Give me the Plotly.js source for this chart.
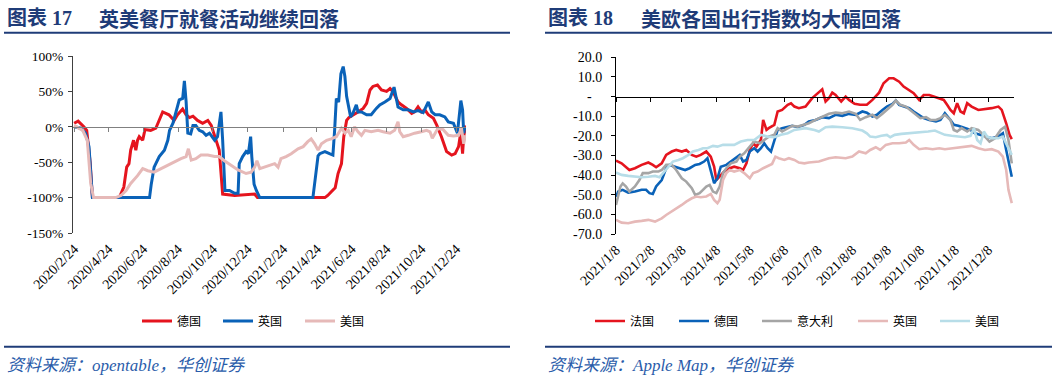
<!DOCTYPE html>
<html><head><meta charset="utf-8">
<script src="https://cdn.plot.ly/plotly-3.0.1.min.js"></script>
<style>html,body{margin:0;padding:0;background:#fff}#chart{width:1064px;height:380px}</style>
</head><body><div id="chart"></div>
<script>
// ---------- Chart 17: restaurant activity (opentable) ----------
const leftTickVals = ['2020-02-24','2020-04-24','2020-06-24','2020-08-24','2020-10-24','2020-12-24','2021-02-24','2021-04-24','2021-06-24','2021-08-24','2021-10-24','2021-12-24'];
const leftTickText = ['2020/2/24','2020/4/24','2020/6/24','2020/8/24','2020/10/24','2020/12/24','2021/2/24','2021/4/24','2021/6/24','2021/8/24','2021/10/24','2021/12/24'];
const leftYTicks = [-150,-100,-50,0,50,100];
const leftYText = ['-150%','-100%','-50%','0%','50%','100%'];
const leftNames = ['德国','英国','美国'];

const deDates = ['2020-02-24','2020-03-02','2020-03-12','2020-03-17','2020-03-23','2020-03-27','2020-05-13','2020-05-21','2020-05-26','2020-05-30','2020-06-02','2020-06-07','2020-06-11','2020-06-14','2020-06-17','2020-06-23','2020-06-27','2020-07-07','2020-07-16','2020-07-28','2020-08-08','2020-08-17','2020-08-23','2020-09-01','2020-09-07','2020-09-13','2020-09-19','2020-09-27','2020-10-06','2020-10-15','2020-10-21','2020-10-30','2020-11-04','2020-11-10','2020-12-01','2021-01-05','2021-01-10','2021-05-08','2021-05-13','2021-05-20','2021-05-26','2021-05-31','2021-06-06','2021-06-10','2021-06-15','2021-06-19','2021-06-26','2021-07-05','2021-07-14','2021-07-20','2021-07-26','2021-07-31','2021-08-08','2021-08-15','2021-08-24','2021-08-30','2021-09-04','2021-09-13','2021-09-19','2021-09-28','2021-10-07','2021-10-12','2021-10-18','2021-10-24','2021-10-30','2021-11-05','2021-11-14','2021-11-20','2021-11-28','2021-12-07','2021-12-16','2021-12-22','2021-12-28','2022-01-01','2022-01-04','2022-01-06','2022-01-09'];
const deVals = [5,8,0,-5,-50,-100,-100,-85,-57,-52,-33,-19,-33,-19,-14,-19,-4,-5,-2,21,17,9,17,25,17,13,15,9,5,9,2,-19,-33,-95,-97,-95,-100,-100,-97,-91,-86,-66,-52,-14,9,13,17,21,26,33,52,57,59,52,50,54,50,35,31,26,19,21,28,21,24,17,12,2,-14,-35,-40,-38,-28,-7,-38,-14,2];

const ukDates = ['2020-02-24','2020-03-07','2020-03-15','2020-03-21','2020-03-27','2020-07-05','2020-07-08','2020-07-13','2020-07-22','2020-07-31','2020-08-06','2020-08-09','2020-08-15','2020-08-20','2020-08-26','2020-09-01','2020-09-04','2020-09-07','2020-09-10','2020-09-15','2020-09-19','2020-09-24','2020-09-30','2020-10-06','2020-10-12','2020-10-18','2020-10-27','2020-11-01','2020-11-07','2020-11-10','2020-11-14','2020-11-22','2020-12-01','2020-12-07','2020-12-09','2020-12-15','2020-12-21','2020-12-25','2020-12-29','2020-12-31','2021-01-04','2021-01-08','2021-01-14','2021-04-17','2021-04-26','2021-04-29','2021-05-08','2021-05-16','2021-05-22','2021-05-25','2021-05-28','2021-06-01','2021-06-05','2021-06-09','2021-06-12','2021-06-15','2021-06-19','2021-06-22','2021-06-26','2021-07-02','2021-07-05','2021-07-11','2021-07-20','2021-07-28','2021-08-06','2021-08-12','2021-08-21','2021-08-30','2021-09-06','2021-09-10','2021-09-13','2021-09-22','2021-10-01','2021-10-10','2021-10-18','2021-10-27','2021-11-05','2021-11-11','2021-11-17','2021-11-25','2021-12-04','2021-12-10','2021-12-19','2021-12-26','2022-01-01','2022-01-04','2022-01-06','2022-01-08'];
const ukVals = [0,-2,-9,-28,-100,-100,-81,-57,-42,-33,-19,-5,5,19,38,40,65,36,-9,-10,2,2,-5,-7,-12,-9,-19,-14,21,-19,-90,-90,-94,-94,-52,-42,-35,-38,-14,-42,-81,-90,-100,-100,-41,-38,-35,-38,-40,-5,40,35,75,85,71,43,28,14,19,31,21,21,17,17,26,31,35,40,56,42,28,24,24,21,23,20,35,21,17,17,14,7,5,-9,37,24,-9,0];

const usDates = ['2020-02-24','2020-03-10','2020-03-18','2020-03-24','2020-03-29','2020-05-07','2020-05-16','2020-05-25','2020-06-02','2020-06-14','2020-06-23','2020-07-02','2020-07-13','2020-07-25','2020-08-06','2020-08-17','2020-08-29','2020-09-07','2020-09-11','2020-09-16','2020-09-24','2020-10-03','2020-10-15','2020-10-27','2020-11-04','2020-11-13','2020-11-25','2020-12-07','2020-12-21','2020-12-30','2021-01-05','2021-01-09','2021-01-14','2021-01-22','2021-01-28','2021-02-09','2021-02-15','2021-02-20','2021-03-01','2021-03-10','2021-03-22','2021-03-31','2021-04-08','2021-04-14','2021-04-20','2021-04-26','2021-05-02','2021-05-11','2021-05-19','2021-05-28','2021-06-06','2021-06-12','2021-06-18','2021-06-23','2021-06-29','2021-07-05','2021-07-11','2021-07-17','2021-07-28','2021-08-09','2021-08-18','2021-08-30','2021-09-07','2021-09-13','2021-09-16','2021-09-22','2021-10-01','2021-10-12','2021-10-24','2021-11-02','2021-11-08','2021-11-12','2021-11-17','2021-11-22','2021-12-01','2021-12-10','2021-12-19','2021-12-28','2022-01-02','2022-01-06','2022-01-09'];
const usVals = [2,-5,-19,-80,-100,-100,-97,-90,-80,-69,-59,-62,-64,-59,-54,-50,-45,-42,-31,-47,-45,-40,-40,-42,-42,-48,-54,-61,-66,-64,-57,-48,-59,-57,-55,-52,-57,-45,-42,-38,-31,-28,-21,-17,-24,-33,-24,-19,-17,-14,-2,-9,-5,-14,0,-7,-12,-5,-7,-5,-7,-9,-5,7,-7,-14,-12,-9,-7,-5,-7,-16,-9,-2,-4,-12,-13,-12,-2,-24,-12];

// ---------- Chart 18: Apple mobility index ----------
const rightTickVals = ['2021-01-08','2021-02-08','2021-03-08','2021-04-08','2021-05-08','2021-06-08','2021-07-08','2021-08-08','2021-09-08','2021-10-08','2021-11-08','2021-12-08'];
const rightTickText = ['2021/1/8','2021/2/8','2021/3/8','2021/4/8','2021/5/8','2021/6/8','2021/7/8','2021/8/8','2021/9/8','2021/10/8','2021/11/8','2021/12/8'];
const rightYTicks = [-70,-60,-50,-40,-30,-20,-10,0,10,20];
const rightYText = ['-70.0','-60.0','-50.0','-40.0','-30.0','-20.0','-10.0','-\u00a0\u00a0\u00a0','10.0','20.0'];
const rightNames = ['法国','德国','意大利','英国','美国'];

const frDates = ['2021-01-08','2021-01-13','2021-01-20','2021-01-25','2021-01-31','2021-02-06','2021-02-10','2021-02-13','2021-02-18','2021-02-22','2021-02-27','2021-03-03','2021-03-08','2021-03-12','2021-03-17','2021-03-21','2021-03-25','2021-03-30','2021-04-03','2021-04-06','2021-04-08','2021-04-11','2021-04-15','2021-04-20','2021-04-24','2021-04-29','2021-05-02','2021-05-05','2021-05-08','2021-05-11','2021-05-14','2021-05-18','2021-05-20','2021-05-23','2021-05-25','2021-05-30','2021-06-02','2021-06-06','2021-06-11','2021-06-14','2021-06-17','2021-06-21','2021-06-27','2021-07-03','2021-07-08','2021-07-12','2021-07-15','2021-07-18','2021-07-21','2021-07-24','2021-07-29','2021-08-02','2021-08-05','2021-08-10','2021-08-15','2021-08-21','2021-08-26','2021-09-01','2021-09-05','2021-09-10','2021-09-14','2021-09-19','2021-09-23','2021-09-28','2021-10-02','2021-10-07','2021-10-11','2021-10-16','2021-10-20','2021-10-25','2021-10-29','2021-11-01','2021-11-04','2021-11-07','2021-11-10','2021-11-13','2021-11-16','2021-11-19','2021-11-23','2021-11-29','2021-12-05','2021-12-11','2021-12-17','2021-12-20','2021-12-24','2021-12-27','2021-12-29'];
const frVals = [-32.6,-34,-37.4,-36.5,-34.8,-33.6,-34.8,-36,-34,-29.7,-28,-27.2,-28,-27.2,-29.7,-30.6,-29.7,-28,-30.6,-35.7,-42.5,-40.8,-38.2,-36.5,-35.7,-36.5,-37.4,-34,-27.2,-23.8,-25.5,-22,-11.9,-17,-16.1,-14.4,-7.6,-6.8,-4.2,-3.4,-5.1,-5.9,-5.1,-0.8,1.7,3.7,-2.5,-0.8,2.0,0.8,-2.5,0,-1.7,-3.7,-4.2,-4.2,-1.7,2.0,6.8,9.3,9.3,7.6,5.1,3.4,1.7,-1.7,0.8,0.8,0,-0.8,-1.7,-4.2,-6.8,-8.5,-3.4,-7.6,-8.5,-3.4,-5.1,-6.8,-6.5,-5.9,-5.1,-6.8,-13.6,-19.5,-21.7];

const deMobDates = ['2021-01-08','2021-01-10','2021-01-14','2021-01-19','2021-01-25','2021-01-31','2021-02-04','2021-02-07','2021-02-10','2021-02-13','2021-02-18','2021-02-22','2021-02-25','2021-03-02','2021-03-06','2021-03-11','2021-03-15','2021-03-20','2021-03-24','2021-03-28','2021-03-31','2021-04-03','2021-04-06','2021-04-09','2021-04-12','2021-04-17','2021-04-21','2021-04-26','2021-04-29','2021-05-02','2021-05-05','2021-05-08','2021-05-12','2021-05-15','2021-05-18','2021-05-21','2021-05-24','2021-05-27','2021-05-30','2021-06-02','2021-06-06','2021-06-11','2021-06-15','2021-06-20','2021-06-26','2021-06-30','2021-07-06','2021-07-12','2021-07-18','2021-07-24','2021-07-30','2021-08-05','2021-08-11','2021-08-17','2021-08-21','2021-08-26','2021-08-30','2021-09-04','2021-09-08','2021-09-13','2021-09-16','2021-09-19','2021-09-23','2021-09-28','2021-10-02','2021-10-07','2021-10-11','2021-10-16','2021-10-22','2021-10-26','2021-10-30','2021-11-04','2021-11-07','2021-11-11','2021-11-17','2021-11-22','2021-11-26','2021-12-01','2021-12-05','2021-12-11','2021-12-17','2021-12-21','2021-12-24','2021-12-27','2021-12-29'];
const deMobVals = [-51,-48.4,-47.5,-48.9,-48.4,-47.5,-47.5,-49.2,-49.6,-45.8,-42.5,-36.5,-34.8,-35.7,-36.5,-37.4,-36.5,-34.8,-34.3,-33.1,-31.4,-38.2,-44.1,-41.6,-35.7,-34.8,-33.1,-30.6,-29.7,-33.1,-32.3,-28,-26.3,-28,-26.3,-23.8,-26.3,-28,-22.1,-17,-16.1,-15.3,-14.9,-15.6,-14.4,-12.7,-11.9,-10.5,-11.0,-9.3,-9.8,-8.8,-9.3,-7.6,-8.2,-10.2,-9.3,-6.8,-5.1,-3.7,-2.0,-4.2,-5.1,-5.9,-7.6,-9.3,-11.0,-11.9,-12.7,-11.9,-8.5,-11.9,-14.4,-14.9,-16.1,-17.0,-18.7,-19.5,-20.4,-21.2,-20.4,-18.7,-27.2,-34.8,-40.8];

const itDates = ['2021-01-08','2021-01-10','2021-01-12','2021-01-14','2021-01-17','2021-01-20','2021-01-25','2021-01-29','2021-02-01','2021-02-06','2021-02-10','2021-02-15','2021-02-18','2021-02-22','2021-02-27','2021-03-03','2021-03-08','2021-03-12','2021-03-17','2021-03-20','2021-03-24','2021-03-27','2021-03-30','2021-04-02','2021-04-05','2021-04-08','2021-04-11','2021-04-14','2021-04-17','2021-04-21','2021-04-26','2021-04-29','2021-05-03','2021-05-08','2021-05-12','2021-05-17','2021-05-21','2021-05-25','2021-05-30','2021-06-02','2021-06-06','2021-06-11','2021-06-15','2021-06-20','2021-06-26','2021-06-30','2021-07-06','2021-07-12','2021-07-18','2021-07-24','2021-07-30','2021-08-05','2021-08-11','2021-08-15','2021-08-20','2021-08-26','2021-08-30','2021-09-04','2021-09-08','2021-09-13','2021-09-16','2021-09-20','2021-09-25','2021-09-29','2021-10-04','2021-10-08','2021-10-13','2021-10-17','2021-10-22','2021-10-26','2021-10-30','2021-11-04','2021-11-07','2021-11-10','2021-11-14','2021-11-19','2021-11-23','2021-11-29','2021-12-05','2021-12-09','2021-12-14','2021-12-19','2021-12-23','2021-12-26','2021-12-29'];
const itVals = [-55.2,-51,-45.8,-44.2,-45.8,-48.4,-45.8,-42.5,-39,-39,-38.2,-38.2,-37.4,-34.8,-34.8,-37.4,-41.6,-43.3,-46.7,-50.1,-49.2,-47.5,-45.8,-45,-48.4,-49.2,-45.8,-39,-36.5,-34,-33.1,-30.6,-28.9,-25.5,-22.9,-23.8,-22.1,-20.4,-19.5,-16.1,-17.8,-16.1,-14.9,-15.3,-14.4,-13.6,-11.9,-10.5,-8.8,-8.2,-8.5,-7.6,-8.8,-11.9,-10.5,-9.3,-11.0,-8.8,-6.8,-4.2,-2.0,-4.2,-5.1,-6.8,-9.3,-11.0,-10.5,-11.9,-11.9,-11.0,-9.3,-11.9,-17.0,-17.8,-16.1,-17.8,-16.1,-17.0,-20.4,-22.9,-21.2,-17.0,-15.3,-22.1,-34.0];

const gbDates = ['2021-01-08','2021-01-13','2021-01-19','2021-01-25','2021-01-31','2021-02-06','2021-02-12','2021-02-18','2021-02-22','2021-02-27','2021-03-03','2021-03-08','2021-03-12','2021-03-17','2021-03-21','2021-03-25','2021-03-30','2021-04-03','2021-04-06','2021-04-09','2021-04-11','2021-04-14','2021-04-17','2021-04-20','2021-04-24','2021-04-29','2021-05-03','2021-05-08','2021-05-11','2021-05-15','2021-05-20','2021-05-24','2021-05-28','2021-05-31','2021-06-03','2021-06-08','2021-06-12','2021-06-17','2021-06-21','2021-06-26','2021-06-30','2021-07-09','2021-07-18','2021-07-24','2021-08-02','2021-08-08','2021-08-14','2021-08-20','2021-08-24','2021-08-29','2021-09-02','2021-09-07','2021-09-13','2021-09-19','2021-09-25','2021-09-28','2021-10-02','2021-10-07','2021-10-13','2021-10-19','2021-10-25','2021-10-30','2021-11-05','2021-11-11','2021-11-17','2021-11-23','2021-11-29','2021-12-05','2021-12-11','2021-12-17','2021-12-21','2021-12-24','2021-12-26','2021-12-29'];
const gbVals = [-62.8,-64.2,-64.5,-63.7,-63.3,-62.8,-63.7,-62,-60.3,-58.6,-56.9,-55.2,-53.5,-51.8,-50.9,-51.3,-50.9,-49.6,-52.6,-54.3,-52.6,-42.5,-39,-37.4,-38.2,-37.4,-39,-41.6,-39,-38.2,-36.5,-35.3,-34.3,-30.6,-31.4,-32.3,-31.4,-32.3,-33.6,-34,-33.6,-33.1,-31.4,-30.9,-31.4,-30.6,-28,-28.9,-27.2,-25.8,-27.2,-24.6,-23.8,-23.8,-23.4,-22.1,-24.6,-26.8,-26.3,-26.8,-26.3,-26.8,-26.3,-25.8,-25.5,-25.1,-26.3,-27.2,-26.8,-28,-30.6,-37.4,-47.5,-54.3];

const usMobDates = ['2021-01-08','2021-01-13','2021-01-19','2021-01-25','2021-01-31','2021-02-06','2021-02-12','2021-02-16','2021-02-19','2021-02-24','2021-02-28','2021-03-05','2021-03-09','2021-03-14','2021-03-18','2021-03-23','2021-03-27','2021-03-31','2021-04-05','2021-04-09','2021-04-14','2021-04-18','2021-04-24','2021-04-30','2021-05-06','2021-05-12','2021-05-18','2021-05-24','2021-05-30','2021-06-05','2021-06-11','2021-06-17','2021-06-23','2021-06-27','2021-07-05','2021-07-09','2021-07-15','2021-07-21','2021-07-30','2021-08-08','2021-08-17','2021-08-21','2021-08-24','2021-08-29','2021-09-03','2021-09-08','2021-09-11','2021-09-15','2021-09-21','2021-09-27','2021-10-03','2021-10-09','2021-10-15','2021-10-21','2021-10-26','2021-10-30','2021-11-05','2021-11-11','2021-11-17','2021-11-22','2021-11-25','2021-11-28','2021-12-01','2021-12-04','2021-12-07','2021-12-11','2021-12-17','2021-12-21','2021-12-24','2021-12-27','2021-12-29'];
const usMobVals = [-38.7,-39.9,-40.4,-40.8,-41.1,-40.8,-40.4,-41.1,-39,-35.7,-33.1,-32.3,-31.4,-29.7,-28,-27.2,-26.3,-26.3,-25.1,-25.5,-24.6,-24.6,-24.6,-22.9,-22.1,-22.1,-19.5,-20.4,-20.7,-19.5,-18.7,-17,-16.6,-16.1,-17.0,-17.8,-15.6,-15.3,-15.6,-16.1,-17.3,-18.7,-20.4,-20.7,-20.0,-19.5,-20.7,-19.5,-19.0,-18.7,-18.3,-18.3,-17.8,-17.3,-18.7,-19.5,-20.0,-20.4,-20.7,-20.0,-16.1,-22.1,-23.8,-17.8,-20.4,-21.2,-21.2,-20.4,-23.8,-27.2,-29.7];

// ---------- styling ----------
const SERIF = 'Liberation Serif, Times New Roman, serif';
const CJK = 'Noto Sans CJK SC';
const MIX = 'Liberation Serif, Noto Sans CJK SC';
const NAVY = '#1f3c78';
const RED = '#e5141e', BLUE = '#0a62b8', PINK = '#e6b9b8', GRAY = '#a5a5a5', LBLUE = '#b7dde8';
const W = 1064, H = 380;
const px = v => v / W, py = v => 1 - v / H;

const mk = (x, y, name, color, width, xa, ya, lg) => ({x, y, name, type: 'scatter', mode: 'lines', line: {color, width}, xaxis: xa, yaxis: ya, legend: lg, showlegend: true});
const traces = [
  mk(deDates, deVals, leftNames[0], RED, 3, 'x', 'y', 'legend'),
  mk(ukDates, ukVals, leftNames[1], BLUE, 3, 'x', 'y', 'legend2'),
  mk(usDates, usVals, leftNames[2], PINK, 3, 'x', 'y', 'legend3'),
  mk(frDates, frVals, rightNames[0], RED, 2.6, 'x2', 'y2', 'legend4'),
  mk(deMobDates, deMobVals, rightNames[1], BLUE, 2.6, 'x2', 'y2', 'legend5'),
  mk(itDates, itVals, rightNames[2], GRAY, 2.6, 'x2', 'y2', 'legend6'),
  mk(gbDates, gbVals, rightNames[3], PINK, 2.6, 'x2', 'y2', 'legend7'),
  mk(usMobDates, usMobVals, rightNames[4], LBLUE, 2.6, 'x2', 'y2', 'legend8'),
  // carriers for the zero-line axes (no marks)
  {x: [], y: [], type: 'scatter', mode: 'lines', xaxis: 'x3', yaxis: 'y', showlegend: false, hoverinfo: 'skip'},
  {x: [], y: [], type: 'scatter', mode: 'lines', xaxis: 'x4', yaxis: 'y2', showlegend: false, hoverinfo: 'skip'}
];

const leftDom = [px(73), px(466)];
const rightDom = [px(616), px(1014)];
const leftRange = ['2020-02-22', '2022-01-10'];
const rightRange = ['2021-01-08', '2021-12-31'];
const xTickFont = {family: SERIF, size: 14, color: '#000'};

const legendStarts = [140, 221, 303, 593, 677, 760, 856, 938];
const legendFor = x0 => ({visible: true, orientation: 'h', x: px(x0 - 3), y: py(321), xanchor: 'left', yanchor: 'middle',
  font: {family: CJK, size: 12, color: '#000'}, bgcolor: 'rgba(0,0,0,0)', borderwidth: 0});

const layout = {
  width: W, height: H,
  margin: {l: 0, r: 0, t: 0, b: 0},
  paper_bgcolor: '#fff', plot_bgcolor: 'rgba(0,0,0,0)',
  hovermode: false,
  showlegend: true,
  xaxis: {domain: leftDom, type: 'date', range: leftRange, anchor: 'y', tickmode: 'array', tickvals: leftTickVals, ticktext: leftTickText,
          tickangle: -45, showline: false, ticks: '', showgrid: false, zeroline: false, tickfont: xTickFont, ticklabelstandoff: 4},
  xaxis3: {domain: leftDom, type: 'date', range: leftRange, overlaying: 'x', anchor: 'free', position: py(126.7),
           tickmode: 'array', tickvals: leftTickVals, showticklabels: false, showline: true, linecolor: '#808080', linewidth: 1.5,
           ticks: 'outside', ticklen: 4, tickcolor: '#808080', tickwidth: 1, showgrid: false, zeroline: false},
  yaxis: {domain: [py(233), py(56)], range: [-150, 100], anchor: 'x', tickmode: 'array', tickvals: leftYTicks, ticktext: leftYText,
          showline: true, linecolor: '#404040', linewidth: 1, ticks: 'outside', ticklen: 4, tickcolor: '#404040', showgrid: false, zeroline: false,
          tickfont: {family: SERIF, size: 13.5, color: '#000'}, ticklabelstandoff: 2},
  xaxis2: {domain: rightDom, type: 'date', range: rightRange, anchor: 'y2', tickmode: 'array', tickvals: rightTickVals, ticktext: rightTickText,
          tickangle: -45, showline: false, ticks: '', showgrid: false, zeroline: false, tickfont: xTickFont, ticklabelstandoff: 4},
  xaxis4: {domain: rightDom, type: 'date', range: rightRange, overlaying: 'x2', anchor: 'free', position: py(96.7),
           tickmode: 'array', tickvals: rightTickVals, showticklabels: false, showline: true, linecolor: '#000', linewidth: 1,
           ticks: 'outside', ticklen: 4, tickcolor: '#000', tickwidth: 1, showgrid: false, zeroline: false},
  yaxis2: {domain: [py(234), py(57.3)], range: [-70, 20], anchor: 'x2', tickmode: 'array', tickvals: rightYTicks, ticktext: rightYText,
          showline: true, linecolor: '#000', linewidth: 1, ticks: 'outside', ticklen: 4, tickcolor: '#000', showgrid: false, zeroline: false,
          tickfont: {family: SERIF, size: 14, color: '#000'}, ticklabelstandoff: 6},
  shapes: [
    {type: 'line', xref: 'paper', yref: 'paper', x0: px(4), x1: px(510), y0: py(32.7), y1: py(32.7), line: {color: NAVY, width: 2}},
    {type: 'line', xref: 'paper', yref: 'paper', x0: px(545), x1: px(1052), y0: py(32.7), y1: py(32.7), line: {color: NAVY, width: 2}},
    {type: 'line', xref: 'paper', yref: 'paper', x0: px(4), x1: px(510), y0: py(346.7), y1: py(346.7), line: {color: NAVY, width: 2}},
    {type: 'line', xref: 'paper', yref: 'paper', x0: px(545), x1: px(1052), y0: py(346.7), y1: py(346.7), line: {color: NAVY, width: 2}}
  ],
  annotations: [
    {text: '<b>图表 17</b>', xref: 'paper', yref: 'paper', x: px(5), y: py(18), xanchor: 'left', yanchor: 'middle', showarrow: false, font: {family: MIX, size: 20, color: NAVY}},
    {text: '<b>英美餐厅就餐活动继续回落</b>', xref: 'paper', yref: 'paper', x: px(97), y: py(18), xanchor: 'left', yanchor: 'middle', showarrow: false, font: {family: CJK, size: 20, color: NAVY}},
    {text: '<b>图表 18</b>', xref: 'paper', yref: 'paper', x: px(546), y: py(18), xanchor: 'left', yanchor: 'middle', showarrow: false, font: {family: MIX, size: 20, color: NAVY}},
    {text: '<b>美欧各国出行指数均大幅回落</b>', xref: 'paper', yref: 'paper', x: px(639), y: py(18), xanchor: 'left', yanchor: 'middle', showarrow: false, font: {family: CJK, size: 20, color: NAVY}},
    {text: '<i>资料来源：opentable，华创证券</i>', xref: 'paper', yref: 'paper', x: px(5), y: py(365), xanchor: 'left', yanchor: 'middle', showarrow: false, font: {family: MIX, size: 17, color: '#2a5caa'}},
    {text: '<i>资料来源：Apple Map，华创证券</i>', xref: 'paper', yref: 'paper', x: px(546), y: py(365), xanchor: 'left', yanchor: 'middle', showarrow: false, font: {family: MIX, size: 17, color: '#2a5caa'}}
  ]
};
legendStarts.forEach((x0, i) => { layout[i === 0 ? 'legend' : 'legend' + (i + 1)] = legendFor(x0); });

Plotly.newPlot('chart', traces, layout, {staticPlot: true, displayModeBar: false});
</script></body></html>
